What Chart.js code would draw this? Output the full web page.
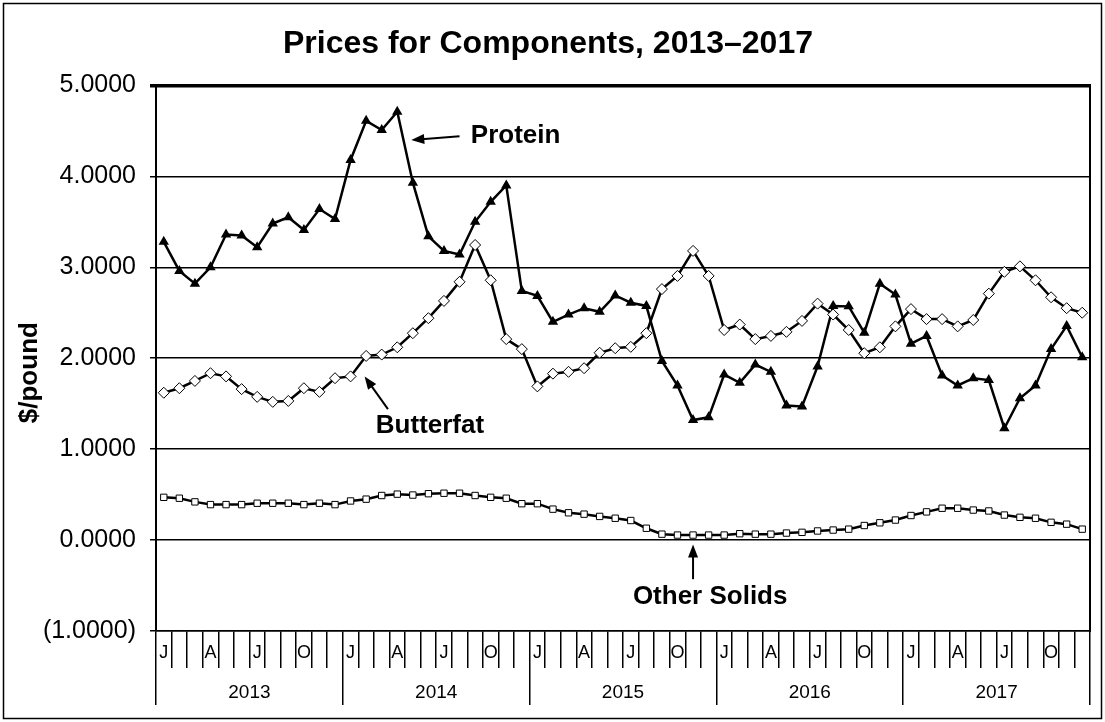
<!DOCTYPE html>
<html>
<head>
<meta charset="utf-8">
<script src="https://cdn.jsdelivr.net/npm/chart.js@4/dist/chart.umd.min.js"></script>
<style>
  body { margin: 0; background: #fff; }
  #wrap { width: 1105px; height: 722px; position: relative; }
</style>
</head>
<body>
<div id="wrap"><canvas id="mycanvas"></canvas></div>
<script>
// monthly values, Jan 2013 .. Dec 2017, $/pound
var years = ['2013', '2014', '2015', '2016', '2017'];
var months = ['Jan', 'Feb', 'Mar', 'Apr', 'May', 'Jun', 'Jul', 'Aug', 'Sep', 'Oct', 'Nov', 'Dec'];
var monthTicks = ['J', '', '', 'A', '', '', 'J', '', '', 'O', '', ''];
var yTicks = [-1, 0, 1, 2, 3, 4, 5];

var protein = [
    3.28, 2.96, 2.82, 3.00, 3.36, 3.35, 3.22, 3.48, 3.55, 3.41, 3.64, 3.53,
    4.18, 4.61, 4.51, 4.71, 3.93, 3.34, 3.18, 3.14, 3.50, 3.72, 3.90, 2.74,
    2.685, 2.40, 2.48, 2.55, 2.51, 2.69, 2.61, 2.575, 1.97, 1.70, 1.32, 1.35,
    1.82, 1.73, 1.93, 1.85, 1.48, 1.47, 1.91, 2.575, 2.57, 2.28, 2.82, 2.70,
    2.16, 2.245, 1.81, 1.70, 1.78, 1.76, 1.23, 1.56, 1.70, 2.10, 2.355, 2.01
];
var butterfat = [
    1.62, 1.67, 1.75, 1.835, 1.80, 1.66, 1.575, 1.52, 1.53, 1.67, 1.63, 1.78,
    1.80, 2.025, 2.04, 2.12, 2.275, 2.44, 2.63, 2.84, 3.245, 2.857, 2.21, 2.10,
    1.69, 1.83, 1.85, 1.89, 2.06, 2.11, 2.125, 2.275, 2.76, 2.905, 3.18, 2.905,
    2.31, 2.37, 2.21, 2.245, 2.29, 2.41, 2.60, 2.48, 2.31, 2.055, 2.12, 2.35,
    2.54, 2.43, 2.43, 2.35, 2.42, 2.71, 2.95, 3.01, 2.857, 2.67, 2.55, 2.50
];
var otherSolids = [
    0.47, 0.46, 0.42, 0.39, 0.39, 0.39, 0.405, 0.405, 0.405, 0.39, 0.405, 0.39,
    0.43, 0.45, 0.49, 0.505, 0.495, 0.51, 0.515, 0.515, 0.49, 0.47, 0.46, 0.40,
    0.40, 0.34, 0.30, 0.285, 0.26, 0.24, 0.215, 0.13, 0.065, 0.055, 0.055, 0.055,
    0.055, 0.07, 0.065, 0.065, 0.077, 0.085, 0.10, 0.11, 0.12, 0.16, 0.19, 0.22,
    0.27, 0.31, 0.35, 0.35, 0.33, 0.32, 0.275, 0.25, 0.24, 0.195, 0.175, 0.12
];

var labels = [];
years.forEach(function (y) {
    months.forEach(function (m) { labels.push(m + ' ' + y); });
});

Chart.defaults.font.family = 'Arial, "Liberation Sans", sans-serif';
Chart.defaults.color = '#000';

// callout labels with arrows, placed in data units (category index, $/pound)
var callouts = [
    { text: 'Protein', at: [22.6, 4.45], from: [19.0, 4.44], to: [15.9, 4.40] },
    { text: 'Butterfat', at: [17.1, 1.26], from: [14.4, 1.44], to: [12.9, 1.80] },
    { text: 'Other Solids', at: [35.1, -0.62], from: [34.0, -0.43], to: [34.0, -0.05] }
];

var decor = {
    id: 'decor',
    beforeDraw: function (chart) {
        var c = chart.ctx;
        c.save();
        c.fillStyle = '#fff';
        c.fillRect(0, 0, chart.width, chart.height);
        c.restore();
    },
    afterDatasetsDraw: function (chart) {
        var c = chart.ctx;
        var xs = chart.scales.x, ys = chart.scales.y;
        var px = function (i) { return xs.getPixelForValue(0) + i * (xs.getPixelForValue(1) - xs.getPixelForValue(0)); };
        c.save();
        c.fillStyle = '#000';
        c.strokeStyle = '#000';
        c.font = 'bold 26px Arial, "Liberation Sans", sans-serif';
        c.textAlign = 'center';
        c.textBaseline = 'middle';
        callouts.forEach(function (n) {
            c.fillText(n.text, px(n.at[0]), ys.getPixelForValue(n.at[1]));
            var x1 = px(n.from[0]), y1 = ys.getPixelForValue(n.from[1]);
            var x2 = px(n.to[0]), y2 = ys.getPixelForValue(n.to[1]);
            var a = Math.atan2(y2 - y1, x2 - x1);
            var hl = 13, hw = 5;
            c.lineWidth = 2;
            c.beginPath();
            c.moveTo(x1, y1);
            c.lineTo(x2 - Math.cos(a) * hl * 0.8, y2 - Math.sin(a) * hl * 0.8);
            c.stroke();
            c.beginPath();
            c.moveTo(x2, y2);
            c.lineTo(x2 - Math.cos(a) * hl - Math.sin(a) * hw, y2 - Math.sin(a) * hl + Math.cos(a) * hw);
            c.lineTo(x2 - Math.cos(a) * hl + Math.sin(a) * hw, y2 - Math.sin(a) * hl - Math.cos(a) * hw);
            c.closePath();
            c.fill();
        });
        c.restore();
    },
    afterDraw: function (chart) {
        var c = chart.ctx;
        c.save();
        c.strokeStyle = '#000';
        c.lineWidth = 1.5;
        c.strokeRect(3.5, 3.5, chart.width - 7, chart.height - 7);
        c.restore();
    }
};

var ctx = document.getElementById('mycanvas');
var myChart = new Chart(ctx, {
    type: 'line',
    data: {
        labels: labels,
        datasets: [{
            label: 'Other Solids',
            data: otherSolids,
            borderColor: '#000',
            borderWidth: 2.5,
            pointStyle: 'rect',
            pointRadius: 4.5,
            pointBackgroundColor: '#fff',
            pointBorderColor: '#000',
            pointBorderWidth: 1,
            tension: 0
        }, {
            label: 'Butterfat',
            data: butterfat,
            borderColor: '#000',
            borderWidth: 2.5,
            pointStyle: 'rectRot',
            pointRadius: 5.5,
            pointBackgroundColor: '#fff',
            pointBorderColor: '#000',
            pointBorderWidth: 1,
            tension: 0
        }, {
            label: 'Protein',
            data: protein,
            borderColor: '#000',
            borderWidth: 2.5,
            pointStyle: 'triangle',
            pointRadius: 3.5,
            pointBackgroundColor: '#000',
            pointBorderColor: '#000',
            tension: 0
        }]
    },
    options: {
        responsive: true,
        maintainAspectRatio: false,
        animation: false,
        layout: { padding: { left: 6, right: 15, top: 4, bottom: 6 } },
        plugins: {
            legend: { display: false },
            tooltip: { enabled: false },
            title: {
                display: true,
                text: 'Prices for Components, 2013\u20132017',
                color: '#000',
                font: { size: 32, weight: 'bold' },
                padding: { top: 21, bottom: 22 }
            }
        },
        scales: {
            x: {
                type: 'category',
                position: 'bottom',
                weight: 0,
                offset: true,
                grid: { offset: true, drawOnChartArea: false, tickLength: 37, color: '#000', lineWidth: 1.5 },
                border: { display: true, color: '#000', width: 1.5 },
                ticks: {
                    autoSkip: false, maxRotation: 0, minRotation: 0, padding: -26,
                    font: { size: 18 },
                    callback: function (v, i) { return monthTicks[i % 12]; }
                },
                afterFit: function (s) { s.height = 37; }
            },
            x2: {
                type: 'category',
                labels: years,
                position: 'bottom',
                weight: 1,
                offset: true,
                grid: { offset: true, drawOnChartArea: false, tickLength: 37, color: '#000', lineWidth: 1.5 },
                border: { display: false },
                ticks: { autoSkip: false, maxRotation: 0, minRotation: 0, padding: -24, font: { size: 19 } },
                afterFit: function (s) { s.height = 48; }
            },
            y: {
                type: 'linear',
                position: 'left',
                min: yTicks[0],
                max: yTicks[yTicks.length - 1],
                grid: {
                    color: '#000',
                    tickLength: 6,
                    lineWidth: function (c) { return c.tick && c.tick.value === 5 ? 3.5 : 1.5; }
                },
                border: { color: '#000', width: 2 },
                ticks: {
                    stepSize: 1,
                    padding: 14,
                    font: { size: 25 },
                    callback: function (v) {
                        return v < 0 ? '(' + Math.abs(v).toFixed(4) + ')' : v.toFixed(4);
                    }
                },
                title: {
                    display: true,
                    text: '$/pound    ',
                    font: { size: 26, weight: 'bold' },
                    padding: { top: 8, bottom: 0 }
                },
                afterFit: function (s) { s.width = 150; }
            },
            y2: {
                type: 'linear',
                position: 'right',
                min: yTicks[0],
                max: yTicks[yTicks.length - 1],
                grid: { display: false },
                ticks: { display: false },
                border: { display: true, color: '#000', width: 2 },
                afterFit: function (s) { s.width = 0; }
            }
        }
    },
    plugins: [decor]
});
</script>
</body>
</html>
